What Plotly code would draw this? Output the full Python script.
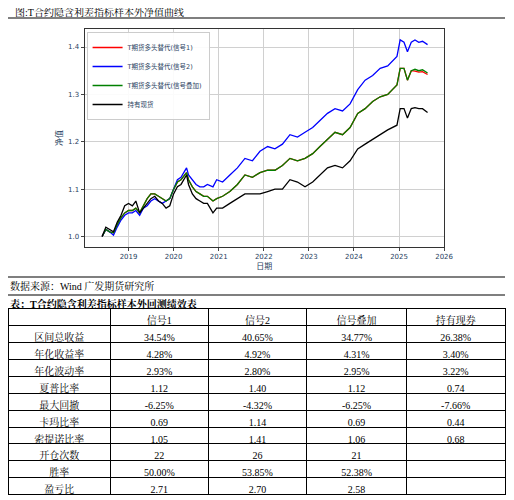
import plotly.graph_objects as go

dates = ["2018-06-01", "2018-07-01", "2018-08-01", "2018-09-01", "2018-10-01", "2018-11-01", "2018-12-01",
         "2019-01-01", "2019-02-01", "2019-03-01", "2019-04-01", "2019-05-01", "2019-06-01", "2019-07-01",
         "2019-08-01", "2019-09-01", "2019-10-01", "2019-11-01", "2019-12-01",
         "2020-01-01", "2020-02-01", "2020-03-01", "2020-04-15", "2020-05-01", "2020-06-01", "2020-07-01",
         "2020-08-01", "2020-09-01", "2020-10-01", "2020-11-15", "2020-12-15",
         "2021-02-01", "2021-04-01", "2021-06-01", "2021-08-01", "2021-10-01", "2021-12-01",
         "2022-02-01", "2022-04-01", "2022-06-01", "2022-08-01", "2022-10-01", "2022-12-01",
         "2023-02-01", "2023-04-01", "2023-06-01", "2023-08-01", "2023-10-01", "2023-12-01",
         "2024-02-01", "2024-04-01", "2024-06-01", "2024-08-01", "2024-10-01", "2024-12-15",
         "2025-01-10", "2025-02-10", "2025-03-10", "2025-04-10", "2025-05-10", "2025-06-10", "2025-07-10",
         "2025-08-20"]

signal2 = [1.00, 1.015, 1.01, 1.003, 1.02, 1.035, 1.045, 1.05, 1.05, 1.055, 1.045, 1.06, 1.065, 1.075,
           1.08, 1.075, 1.07, 1.075, 1.08, 1.10, 1.12, 1.125, 1.145, 1.13, 1.12, 1.11, 1.105, 1.105, 1.11,
           1.105, 1.12, 1.115, 1.13, 1.145, 1.165, 1.16, 1.18, 1.19, 1.185, 1.195, 1.215, 1.21, 1.22,
           1.23, 1.245, 1.26, 1.27, 1.265, 1.28, 1.31, 1.33, 1.34, 1.355, 1.36, 1.38, 1.415, 1.41, 1.39,
           1.41, 1.415, 1.41, 1.412, 1.405]

combo = [1.00, 1.015, 1.01, 1.008, 1.025, 1.04, 1.05, 1.055, 1.055, 1.06, 1.05, 1.065, 1.08, 1.09,
         1.09, 1.085, 1.08, 1.075, 1.08, 1.10, 1.115, 1.12, 1.135, 1.12, 1.105, 1.095, 1.09, 1.085, 1.085,
         1.075, 1.08, 1.085, 1.095, 1.11, 1.13, 1.125, 1.135, 1.14, 1.14, 1.15, 1.165, 1.16, 1.165,
         1.175, 1.19, 1.205, 1.22, 1.215, 1.23, 1.26, 1.27, 1.285, 1.295, 1.30, 1.32, 1.355, 1.355, 1.33,
         1.35, 1.353, 1.35, 1.352, 1.345]

signal1 = combo[:-5] + [1.35, 1.349, 1.347, 1.348, 1.342]

spot = [1.00, 1.02, 1.015, 1.01, 1.03, 1.045, 1.065, 1.07, 1.065, 1.075, 1.05, 1.06, 1.07, 1.08,
        1.085, 1.075, 1.07, 1.06, 1.065, 1.09, 1.105, 1.11, 1.13, 1.11, 1.09, 1.08, 1.075, 1.07, 1.07,
        1.05, 1.06, 1.06, 1.07, 1.08, 1.09, 1.09, 1.09, 1.095, 1.10, 1.10, 1.12, 1.115, 1.105,
        1.115, 1.13, 1.145, 1.15, 1.145, 1.16, 1.185, 1.195, 1.205, 1.215, 1.225, 1.235, 1.27, 1.27, 1.25,
        1.27, 1.272, 1.27, 1.27, 1.262]

row_labels = ["区间总收益", "年化收益率", "年化波动率", "夏普比率", "最大回撤", "卡玛比率", "索提诺比率",
              "开仓次数", "胜率", "盈亏比"]
col_sig1 = ["34.54%", "4.28%", "2.93%", "1.12", "-6.25%", "0.69", "1.05", "22", "50.00%", "2.71"]
col_sig2 = ["40.65%", "4.92%", "2.80%", "1.40", "-4.32%", "1.14", "1.41", "26", "53.85%", "2.70"]
col_combo = ["34.77%", "4.31%", "2.95%", "1.12", "-6.25%", "0.69", "1.06", "21", "52.38%", "2.58"]
col_spot = ["26.38%", "3.40%", "3.22%", "0.74", "-7.66%", "0.44", "0.68", "", "", ""]
headers = ["", "信号1", "信号2", "信号叠加", "持有现券"]

serif = "Liberation Serif, Noto Serif CJK SC, Noto Sans CJK SC"
sans = "DejaVu Sans, Noto Sans CJK SC"

# the page body has an 8px margin, so the figure is 8px smaller than the window
W, H = 506, 492


def px_y(y):
    return 1 - (y - 8) / H


def px_x(x):
    return (x - 8) / W


fig = go.Figure()
series = [("T期货多头替代(信号1)", signal1, "red"), ("T期货多头替代(信号2)", signal2, "blue"),
          ("T期货多头替代(信号叠加)", combo, "green"), ("持有现货", spot, "black")]
for name, vals, color in series:
    fig.add_trace(go.Scatter(x=dates, y=vals, mode="lines", name=name, line=dict(color=color, width=1.3)))

fig.add_trace(go.Table(
    domain=dict(x=[0, 1], y=[0.0, px_y(311.7) + 3 / H]),
    columnwidth=[106, 101, 102, 103, 102],
    header=dict(values=headers, height=16.9, align="center", fill_color="white",
                line=dict(color="black", width=1), font=dict(family=serif, size=10, color="black")),
    cells=dict(values=[row_labels, col_sig1, col_sig2, col_combo, col_spot], height=16.9, align="center",
               fill_color="white", line=dict(color="black", width=1),
               font=dict(family=serif, size=10, color="black")),
))

fig.update_layout(
    width=W, height=H, margin=dict(l=0, r=0, t=0, b=0),
    paper_bgcolor="white", plot_bgcolor="white", showlegend=True,
    legend=dict(x=px_x(88), y=px_y(32), xanchor="left", yanchor="top", bgcolor="rgba(255,255,255,0.9)",
                bordercolor="#ccc", borderwidth=1, font=dict(family=sans, size=6.5), tracegroupgap=0,
                itemwidth=30),
    xaxis=dict(domain=[px_x(86), px_x(452)], range=["2018-01-10", "2026-01-01"], dtick="M12",
               tickformat="%Y", showgrid=True, gridcolor="#d0d0d0", showline=True, linecolor="#333",
               mirror=True, ticks="outside", ticklen=3, tickfont=dict(family=sans, size=7),
               title=dict(text="日期", font=dict(family=sans, size=8), standoff=2)),
    yaxis=dict(domain=[px_y(247), px_y(29)], range=[0.978, 1.438], dtick=0.1, tickformat=".1f",
               showgrid=True, gridcolor="#d0d0d0", showline=True, linecolor="#333", mirror=True,
               ticks="outside", ticklen=3, tickfont=dict(family=sans, size=7),
               title=dict(text="净值", font=dict(family=sans, size=8), standoff=4)),
    font=dict(family=sans),
)

fig.add_annotation(text="图:T合约隐含利差指标样本外净值曲线", x=px_x(13), y=px_y(12), xref="paper",
                   yref="paper", xanchor="left", yanchor="middle", showarrow=False,
                   font=dict(family=serif, size=10, color="black"))
fig.add_annotation(text="数据来源：Wind 广发期货研究所", x=0, y=px_y(286), xref="paper",
                   yref="paper", xanchor="left", yanchor="middle", showarrow=False,
                   font=dict(family=serif, size=10, color="black"))
fig.add_annotation(text="<b>表：T合约隐含利差指标样本外回测绩效表</b>", x=0, y=px_y(304),
                   xref="paper", yref="paper", xanchor="left", yanchor="middle", showarrow=False,
                   font=dict(family=serif, size=10, color="black"))
for yy in [18, 277, 295]:
    fig.add_shape(type="line", xref="paper", yref="paper", x0=0, x1=1, y0=px_y(yy), y1=px_y(yy),
                  line=dict(color="black", width=1.2))

fig.write_html("out.html")
